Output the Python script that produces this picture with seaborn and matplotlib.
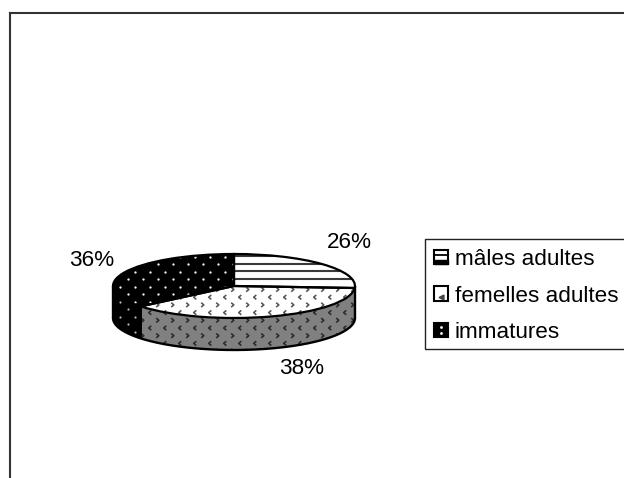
import numpy as np
import pandas as pd
import seaborn as sns
import matplotlib
matplotlib.use("Agg")
import matplotlib.pyplot as plt
from matplotlib.legend_handler import HandlerBase
from matplotlib.lines import Line2D
from matplotlib.patches import Patch, Rectangle
from matplotlib.path import Path

# Share of each group, in percent
categories = ["mâles adultes", "femelles adultes", "immatures"]
shares = [26, 38, 36]

sns.set_theme(style="white")
plt.rcParams["font.family"] = ["Liberation Sans", "DejaVu Sans"]

WIDTH, HEIGHT = 624, 478
CX, CY, RX, RY = 234, 286, 121, 32
INK = "#000000"
WALL_GREY = "#808080"
FRAME = "#333333"
FONT = 16.2

data = pd.DataFrame({"group": categories, "share": shares})


def dx(x):
    return (x - CX) / RX


def dy(y):
    return (CY - y) / RY


def ring(start, stop):
    """Rim of the disc between two clockwise angles measured from 12 o'clock."""
    theta = np.radians(np.linspace(start, stop, 200))
    return np.sin(theta), np.cos(theta)


chevron_r = Path([(-0.6, -1), (0.6, 0), (-0.6, 1)])
chevron_l = Path([(0.6, -1), (-0.6, 0), (0.6, 1)])


def chevrons(ax, clip, colour, rows=9):
    """Staggered rows of small chevrons pointing alternately right and left."""
    for row in range(rows):
        xs = dx(105 + (row % 2 == 0) * 7.5 + np.arange(19) * 15)
        ys = np.full(19, dy(289.5 + row * 7.7))
        art = ax.scatter(xs, ys, s=10, marker=chevron_r if row % 2 == 0 else chevron_l,
                         facecolors="none", edgecolors=colour, linewidths=1.15, zorder=4)
        art.set_clip_path(clip)


def spots(ax, clip, colour, size, rows=14):
    """Staggered rows of small round spots."""
    for row in range(rows):
        xs = dx(105 + (row % 2) * 7.5 + np.arange(10) * 15)
        ys = np.full(10, dy(256.5 + row * 7.5))
        art = ax.scatter(xs, ys, s=size, marker="o", color=colour, linewidths=0, zorder=4)
        art.set_clip_path(clip)


class Swatch(HandlerBase):
    """Small pattern square shown beside each legend entry."""

    def create_artists(self, legend, orig, xd, yd, w, h, fontsize, trans):
        box = Rectangle((-xd, -yd), w, h, facecolor=orig.get_facecolor(),
                        edgecolor=INK, linewidth=1.5, transform=trans)
        parts = [box]
        kind = orig.get_label()
        if kind == categories[0]:
            parts.append(Rectangle((-xd, -yd), w, h * 0.26, color=INK, transform=trans))
            parts.append(Line2D([-xd, -xd + w], [-yd + 0.66 * h] * 2, color=INK, lw=1.3, transform=trans))
        elif kind == categories[1]:
            parts.append(Line2D([-xd + 0.5 * w], [-yd + 0.28 * h], marker="<", ms=3.5, color="#444444",
                                lw=0, transform=trans))
        else:
            parts.append(Line2D([-xd + 0.5 * w] * 2, [-yd + 0.28 * h, -yd + 0.72 * h], marker="o", ms=2,
                                color="white", lw=0, mew=0, transform=trans))
        return parts


fig = plt.figure(figsize=(WIDTH / 100, HEIGHT / 100), dpi=100, facecolor="white")
ax = fig.add_axes([0, 0, 1, 1])

# Top face of the disc, read clockwise from 12 o'clock
fills = ["white", "white", INK]
wedges, _ = ax.pie(data["share"], colors=fills, startangle=90, counterclock=False, radius=1,
                   wedgeprops=dict(linewidth=0, zorder=3))
ax.set_aspect("auto")

# Side wall, only the part turned towards the viewer
bounds = np.cumsum([0] + shares) * 3.6
wall_spans = [(90, bounds[1], WALL_GREY), (bounds[1], bounds[2], WALL_GREY), (bounds[2], 270, INK)]
walls = []
for start, stop, colour in wall_spans:
    xs, ys = ring(start, stop)
    xs = np.r_[xs, xs[::-1]]
    ys = np.r_[ys, ys[::-1] - 1]
    walls.append(ax.fill(xs, ys, color=colour, linewidth=0, zorder=2)[0])

# Surface patterns
for y in np.arange(256, 286, 7.5):
    line = ax.hlines(dy(y), 0, 1.1, color="#3a3a3a", lw=1.5, zorder=4)
    line.set_clip_path(wedges[0])
chevrons(ax, wedges[1], "#555555")
spots(ax, wedges[2], "#f2f2f2", 2.8)

# Patterns on the wall
chevrons(ax, walls[0], "#2a2a2a")
chevrons(ax, walls[1], "#2a2a2a")
spots(ax, walls[2], "#bdbdbd", 2.4)

# Outlines over the patterns
ax.pie(data["share"], startangle=90, counterclock=False, radius=1,
       wedgeprops=dict(fill=False, edgecolor=INK, linewidth=1.6, zorder=5))
ax.set_aspect("auto")
xs, ys = ring(90, 270)
ax.plot(xs, ys - 1, color=INK, lw=1.7, zorder=5)
ax.plot([1, 1], [0, -1], color=INK, lw=1.7, zorder=5)
ax.plot([-1, -1], [0, -1], color=INK, lw=1.7, zorder=5)
xb, yb = ring(bounds[2], bounds[2])
ax.plot([xb[0], xb[0]], [yb[0], yb[0] - 1], color=INK, lw=1.4, zorder=5)

ax.set_xlim(dx(0), dx(WIDTH))
ax.set_ylim(dy(HEIGHT), dy(0))
ax.axis("off")

# Percentage labels
label_spots = [(349, 242), (302, 368), (92, 261)]
for (lx, ly), value in zip(label_spots, shares):
    ax.text(dx(lx), dy(ly), f"{value}%", fontsize=FONT, ha="center", va="center", color=INK)

# Legend box runs off the right edge
fig.add_artist(Rectangle((425, HEIGHT - 349), 260, 110, transform=None, facecolor="white",
                         edgecolor="#222222", linewidth=1.0, zorder=-1))
handles = [Patch(facecolor=f, label=c) for f, c in zip(fills, categories)]
leg = ax.legend(handles=handles, loc="upper left", frameon=False, fontsize=FONT, labelcolor=INK,
                bbox_to_anchor=(434 / WIDTH, 1 - 249 / HEIGHT), bbox_transform=fig.transFigure,
                borderpad=0, borderaxespad=0, labelspacing=0.69, handlelength=0.62,
                handleheight=0.6, handletextpad=0.3,
                handler_map={Patch: Swatch()})
leg.set_zorder(10)

# Chart frame, cut off by the right and bottom edges
fig.add_artist(Line2D([10, 10], [0, HEIGHT - 13], transform=None, color=FRAME, lw=1.5, solid_capstyle="projecting"))
fig.add_artist(Line2D([10, WIDTH], [HEIGHT - 13, HEIGHT - 13], transform=None, color=FRAME, lw=1.5,
                      solid_capstyle="projecting"))

fig.savefig("out.png", dpi=100, facecolor="white")
